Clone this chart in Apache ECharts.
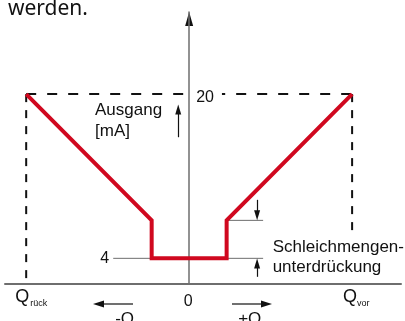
<!DOCTYPE html>
<html>
<head>
<meta charset="utf-8">
<script src="https://cdn.jsdelivr.net/npm/echarts@6/dist/echarts.min.js"></script>
<style>
html, body { margin: 0; padding: 0; background: #fff; }
#chart { width: 405px; height: 321px; }
</style>
</head>
<body>
<div id="chart"></div>
<script>
// Stromausgang-Kennlinie mit Schleichmengenunterdrückung

// Kennlinie: Durchfluss (in % von Q) -> Ausgang [mA]
const flowX = [-100, -23, -23, 23, 23, 100];
const outputMA = [20, 7.7, 4, 4, 7.7, 20];

// markante Punkte
const tickLow = 4;
const tickHigh = 20;
const qBack = -100;
const qFwd = 100;
const cutoffX = 23;
const cutoffTop = 7.7;

// Achsbereiche
const xMin = -113, xMax = 130;
const yMin = 1.5, yMax = 28;

const RED = '#d0081f';
const GRAY = '#6e6e6e';
const TXT = 'Liberation Sans, Arial, sans-serif';

function seg(a, b) {
    return [a, b];
}

function lineSeries(points, color, width, type, z) {
    return {
        type: 'line',
        data: points,
        symbol: 'none',
        silent: true,
        animation: false,
        z: z,
        lineStyle: { color: color, width: width, type: type, cap: 'butt', join: 'miter' }
    };
}

function arrowLine(from, to) {
    return [{ coord: from }, { coord: to }];
}

const chart = echarts.init(document.getElementById('chart'), null, { renderer: 'canvas' });

const series = [
    // gestrichelte Hilfslinien
    lineSeries(seg([qBack, tickHigh], [qFwd, tickHigh]), '#111', 2, [10, 11], 2),
    lineSeries(seg([qBack, tickHigh], [qBack, yMin]), '#111', 2, [8, 8], 2),
    lineSeries(seg([qFwd, tickHigh], [qFwd, 6.6]), '#111', 2, [8, 8], 2),
    // dünne graue Markierungslinien
    lineSeries(seg([-46.6, tickLow], [-cutoffX, tickLow]), GRAY, 1, 'solid', 3),
    lineSeries(seg([cutoffX, tickLow], [45.4, tickLow]), GRAY, 1, 'solid', 3),
    lineSeries(seg([cutoffX, cutoffTop], [45.4, cutoffTop]), GRAY, 1, 'solid', 3),
    // Kennlinie
    lineSeries(flowX.map((x, i) => [x, outputMA[i]]), RED, 4, 'solid', 5),
    // Pfeile
    {
        type: 'line',
        data: [],
        silent: true,
        animation: false,
        z: 6,
        markLine: {
            silent: true,
            animation: false,
            symbol: ['none', 'triangle'],
            symbolSize: [6, 10],
            label: { show: false },
            lineStyle: { color: '#111', width: 1.2, type: 'solid' },
            data: [
                arrowLine([-6.7, 15.8], [-6.7, 18.5]),
                arrowLine([41.7, 9.7], [41.7, 8.2]),
                arrowLine([41.7, 2.2], [41.7, 3.5])
            ]
        }
    }
];

chart.setOption({
    animation: false,
    grid: { left: 5, right: 4, top: 12, bottom: 37 },
    xAxis: {
        type: 'value',
        min: xMin,
        max: xMax,
        splitLine: { show: false },
        axisTick: { show: false },
        axisLabel: { show: false },
        axisLine: { lineStyle: { color: GRAY, width: 2 } }
    },
    yAxis: {
        type: 'value',
        min: yMin,
        max: yMax,
        splitLine: { show: false },
        axisTick: { show: false },
        axisLabel: { show: false },
        axisLine: { onZero: true, lineStyle: { color: GRAY, width: 1.5 } }
    },
    series: series
});

// Beschriftungen an Datenpunkten verankert
const px = (x, y) => chart.convertToPixel({ gridIndex: 0 }, [x, y]);
const pTop = px(0, yMax);
const pHigh = px(0, tickHigh);
const pLow = px(-46.6, tickLow);
const pBack = px(qBack, yMin);
const pFwd = px(qFwd, yMin);
const pZero = px(0, yMin);
const pCut = px(cutoffX, tickLow);

function text(x, y, str, size, opts) {
    return {
        type: 'text',
        x: x,
        y: y,
        silent: true,
        z: 100,
        style: Object.assign({
            text: str,
            fill: '#111',
            font: size + 'px ' + TXT,
            textAlign: 'left',
            textVerticalAlign: 'middle'
        }, opts || {})
    };
}

function hArrow(x1, x2, y) {
    const dir = x2 > x1 ? 1 : -1;
    return [
        { type: 'line', silent: true, shape: { x1: x1, y1: y, x2: x2 - dir * 9, y2: y }, style: { stroke: '#111', lineWidth: 1.2 } },
        { type: 'polygon', silent: true, shape: { points: [[x2, y], [x2 - dir * 11, y - 3.5], [x2 - dir * 11, y + 3.5]] }, style: { fill: '#111' } }
    ];
}

const graphics = [
    text(8, 9, 'werden.', 21, { font: '21px "Noto Sans", sans-serif' }),
    // Pfeilspitze der y-Achse
    { type: 'polygon', silent: true, shape: { points: [[pTop[0], pTop[1]], [pTop[0] - 4, pTop[1] + 14], [pTop[0] + 4, pTop[1] + 14]] }, style: { fill: '#111' } },
    text(95, 110, 'Ausgang', 17),
    text(95, 131, '[mA]', 17),
    text(pHigh[0] + 1, pHigh[1] + 3, String(tickHigh), 16, { backgroundColor: '#fff', padding: [0, 8, 0, 6] }),
    text(pLow[0] - 4, pLow[1], String(tickLow), 16, { textAlign: 'right' }),
    text(pZero[0] - 1, pZero[1] + 18, '0', 16, { textAlign: 'center' }),
    text(pCut[0] + 46, pCut[1] - 11, 'Schleichmengen-', 17),
    text(pCut[0] + 46, pCut[1] + 9, 'unterdrückung', 17),
    text(pBack[0] - 11, pBack[1] + 13, 'Q', 18),
    text(pBack[0] + 4, pBack[1] + 20, 'rück', 9),
    text(pFwd[0] - 9, pFwd[1] + 13, 'Q', 18),
    text(pFwd[0] + 5, pFwd[1] + 20, 'vor', 9),
    text(pZero[0] - 74, pZero[1] + 27, '-Q', 17, { textVerticalAlign: 'top' }),
    text(pZero[0] + 49, pZero[1] + 27, '+Q', 17, { textVerticalAlign: 'top' })
].concat(hArrow(133, 93, 304), hArrow(232, 272, 304));

chart.setOption({ graphic: graphics });
</script>
</body>
</html>
